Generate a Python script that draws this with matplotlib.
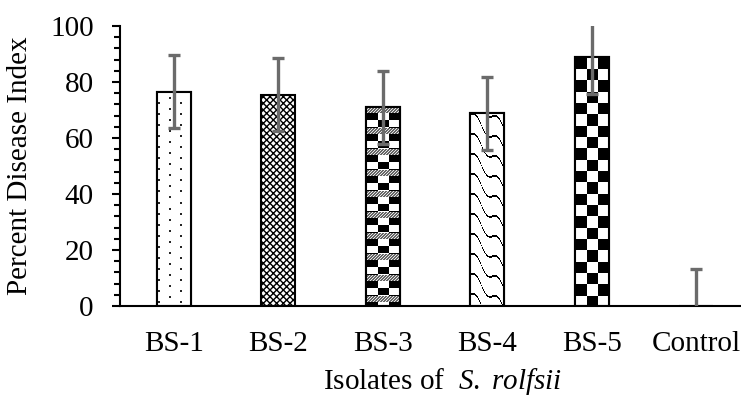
import numpy as np
import matplotlib
matplotlib.use("Agg")
import matplotlib.pyplot as plt

# data
isolates = ["BS-1", "BS-2", "BS-3", "BS-4", "BS-5", "Control"]
pdi = [76.5, 75.4, 71.0, 68.8, 88.8, 0.0]
pdi_err = [13.0, 13.0, 13.0, 13.0, 13.2, 13.1]

plt.rcParams['font.family'] = ['Liberation Serif', 'DejaVu Serif']
plt.rcParams['mathtext.fontset'] = 'custom'
plt.rcParams['mathtext.rm'] = 'Liberation Serif'
plt.rcParams['mathtext.it'] = 'Liberation Serif:italic'
plt.rcParams['hatch.linewidth'] = 1.0

fig = plt.figure(figsize=(7.41, 3.96), dpi=100)
ax = fig.add_axes([120 / 741, 90 / 396, 621 / 741, 280 / 396])

x = np.arange(len(isolates))
bars = ax.bar(x, pdi, width=0.325, color='white', edgecolor='black',
              linewidth=1.5, zorder=2)
ax.set_xlim(-0.517, 5.43)
ax.set_ylim(0, 100)

# fine cross hatch for BS-2
bars[1].set_hatch('xxxxx')


def pattern_image(kind, w, h):
    yy, xx = np.mgrid[0:h, 0:w]
    sq = w / 3.0
    if kind == 'dots':
        col = (xx - 1) // 11
        on = ((xx - 1) % 11 < 2) & (((yy + 5 * (col % 2)) % 11) < 2)
        return np.where(on, 0.15, 1.0)
    if kind == 'checker':
        return (((xx // sq) + (yy // sq)) % 2).astype(float)
    if kind == 'bands':
        ph = yy % 21
        blocks = (((xx // sq) + ((ph - 6) // 7)) % 2).astype(float)
        dots = np.where((xx + yy) % 3 == 0, 0.9, 0.4)
        return np.where(ph < 6, dots, blocks)
    if kind == 'wave':
        f = (yy - 1.0 * xx + 4.5 * np.sin(xx / 3.5)) % 20
        return np.where(f < 1.8, 0.0, 1.0)
    return np.ones((h, w))


fig.canvas.draw()
for b, kind in zip(bars, ['dots', None, 'bands', 'wave', 'checker', None]):
    if kind is None or b.get_height() <= 0:
        continue
    x0, x1 = b.get_x(), b.get_x() + b.get_width()
    (px0, py0), (px1, py1) = ax.transData.transform([(x0, 0), (x1, b.get_height())])
    img = pattern_image(kind, int(round(px1 - px0)), int(round(py1 - py0)))
    im = ax.imshow(img, cmap='gray', vmin=0, vmax=1, interpolation='nearest',
                   extent=(x0, x1, 0, b.get_height()), aspect='auto', zorder=2.5)
    im.set_clip_path(b)
    ax.add_patch(plt.Rectangle((x0, 0), b.get_width(), b.get_height(),
                               fill=False, edgecolor='black', linewidth=1.5, zorder=2.6))
ax.set_xlim(-0.517, 5.43)
ax.set_ylim(0, 100)

ax.errorbar(x, pdi, yerr=pdi_err, fmt='none', ecolor='#6b6b6b',
            elinewidth=2.4, capsize=4.5, capthick=2.4, zorder=3)

for s in ['top', 'right']:
    ax.spines[s].set_visible(False)
ax.spines['left'].set_linewidth(1.5)
ax.spines['bottom'].set_linewidth(1.5)

ax.set_yticks(np.arange(0, 101, 20))
ax.set_yticks(np.arange(0, 101, 4), minor=True)
ax.tick_params(axis='y', which='major', length=6, width=1.5, labelsize=21, pad=13)
ax.tick_params(axis='y', which='minor', length=4.5, width=1.5)
ax.set_xticks(x)
ax.set_xticklabels(isolates)
ax.tick_params(axis='x', length=0, labelsize=21, pad=18)

ax.set_ylabel('Percent Disease Index', fontsize=21)
ax.yaxis.set_label_coords(-0.140, 0.5)
ax.set_xlabel(r'Isolates of  $\it{S.\ rolfsii}$', fontsize=21)
ax.xaxis.set_label_coords(0.519, -0.214)

fig.savefig('out.png', dpi=100)
